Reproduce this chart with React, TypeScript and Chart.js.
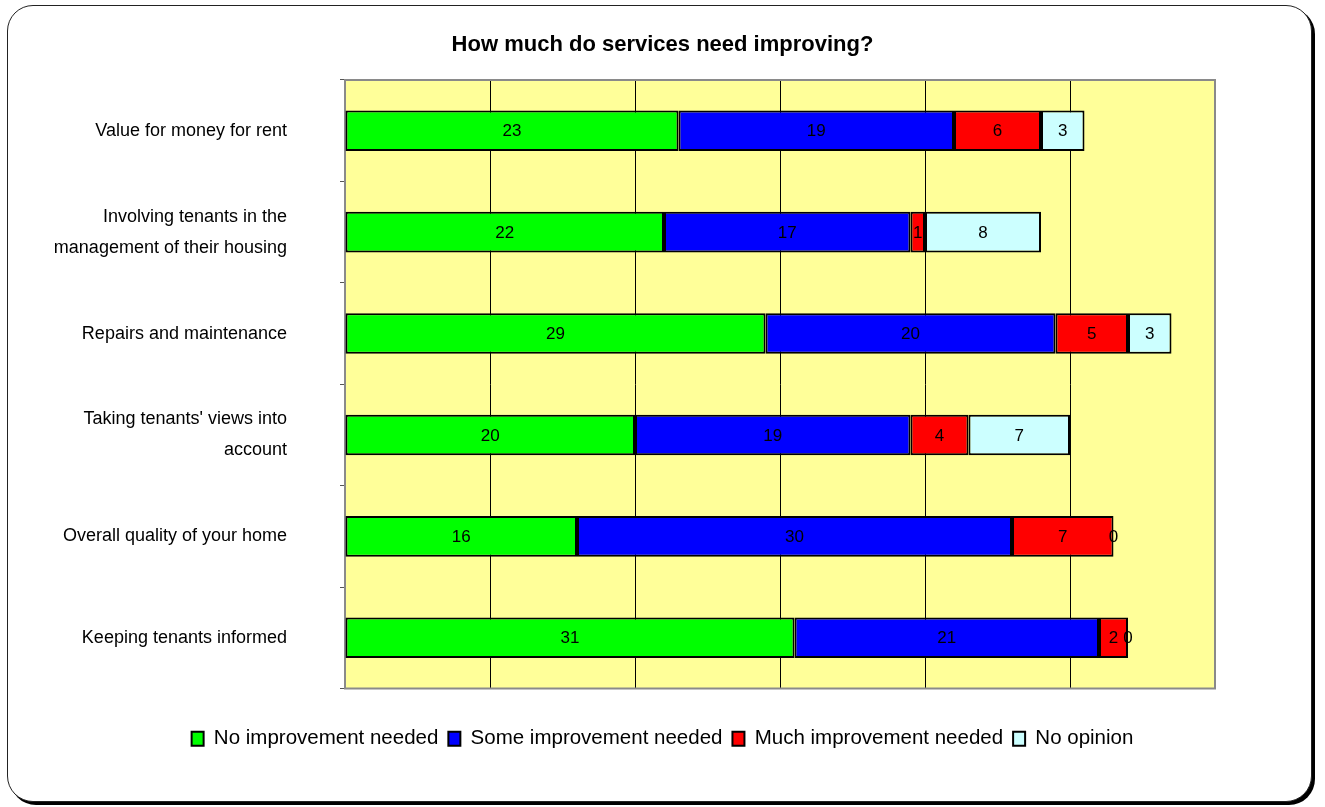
import React, { useEffect, useRef } from "react";
import { Chart, registerables } from "chart.js";

Chart.register(...registerables);

const chartTitle = "How much do services need improving?";
const categories: (string | string[])[] = [
  "Value for money for rent",
  ["Involving tenants in the", "management of their housing"],
  "Repairs and maintenance",
  ["Taking tenants' views into", "account"],
  "Overall quality of your home",
  "Keeping tenants informed",
];
const seriesNames = [
  "No improvement needed",
  "Some improvement needed",
  "Much improvement needed",
  "No opinion",
];
const noImprovement = [23, 22, 29, 20, 16, 31];
const someImprovement = [19, 17, 20, 19, 30, 21];
const muchImprovement = [6, 1, 5, 4, 7, 2];
const noOpinion = [3, 8, 3, 7, 0, 0];
const xMin = 0;
const xMax = 60;
const xStep = 10;

const seriesColors = ["#00FF00", "#0000FF", "#FF0000", "#CCFFFF"];
const FONT = "'Liberation Sans', Arial, sans-serif";

const bgPlugin = {
  id: "plotBg",
  beforeDraw(chart: any) {
    const { ctx, chartArea: a } = chart;
    ctx.save();
    ctx.fillStyle = "#FFFF99";
    ctx.fillRect(a.left, a.top, a.right - a.left, a.bottom - a.top);
    ctx.restore();
  },
  beforeDatasetsDraw(chart: any) {
    const { ctx, chartArea: a } = chart;
    ctx.save();
    ctx.strokeStyle = "#8a8a8a";
    ctx.lineWidth = 2;
    ctx.strokeRect(a.left, a.top, a.right - a.left, a.bottom - a.top);
    ctx.restore();
  },
};

const labelPlugin = {
  id: "segLabels",
  afterDatasetsDraw(chart: any) {
    const { ctx } = chart;
    ctx.save();
    ctx.font = `17px ${FONT}`;
    ctx.fillStyle = "#000";
    ctx.textAlign = "center";
    ctx.textBaseline = "middle";
    chart.data.datasets.forEach((ds: any, di: number) => {
      const meta = chart.getDatasetMeta(di);
      meta.data.forEach((el: any, i: number) => {
        const v = ds.data[i];
        const cx = (el.x + el.base) / 2;
        ctx.fillText(String(v), cx, el.y + 1);
      });
    });
    ctx.restore();
  },
};

export default function App() {
  const ref = useRef<HTMLCanvasElement | null>(null);
  useEffect(() => {
    if (!ref.current) return;
    const values = [noImprovement, someImprovement, muchImprovement, noOpinion];
    const chart = new Chart(ref.current, {
      type: "bar",
      data: {
        labels: categories as any,
        datasets: seriesNames.map((name, i) => ({
          label: name,
          data: values[i],
          backgroundColor: seriesColors[i],
          borderColor: "#000",
          borderWidth: 2,
          borderSkipped: false,
          barPercentage: 0.8,
          categoryPercentage: 0.5,
        })),
      },
      options: {
        indexAxis: "y",
        responsive: false,
        animation: false,
        devicePixelRatio: 1,
        layout: { padding: { left: 0, right: 0, top: 0, bottom: 48 } },
        scales: {
          x: {
            type: "linear",
            stacked: true,
            min: xMin,
            max: xMax,
            ticks: { stepSize: xStep, display: false },
            grid: {
              drawTicks: false,
              lineWidth: 1,
              color: (c: any) =>
                c.tick && (c.tick.value === xMin || c.tick.value === xMax)
                  ? "rgba(0,0,0,0)"
                  : "#000",
            },
            border: { display: false },
            afterFit: (s: any) => {
              s.height = 30;
            },
          },
          y: {
            type: "category",
            stacked: true,
            grid: {
              offset: true,
              drawOnChartArea: false,
              drawTicks: true,
              tickLength: 5,
              color: "#555",
            },
            ticks: {
              color: "#000",
              padding: 53,
              font: { size: 18, family: FONT, lineHeight: "31px" },
            },
            border: { display: false },
            afterFit: (s: any) => {
              s.width = 345;
            },
          },
          y2: {
            type: "linear",
            position: "right",
            display: true,
            grid: { display: false },
            ticks: { display: false },
            border: { display: false },
            afterFit: (s: any) => {
              s.width = 110;
            },
          },
        },
        plugins: {
          title: {
            display: true,
            text: chartTitle,
            color: "#000",
            font: { size: 22, weight: "bold", family: FONT },
            padding: { top: 32, bottom: 21.6 },
          },
          legend: {
            position: "bottom",
            labels: {
              color: "#000",
              font: { size: 20.5, family: FONT },
              boxWidth: 12,
              boxHeight: 14,
              padding: 10,
            },
          },
          tooltip: { enabled: false },
        },
      } as any,
      plugins: [bgPlugin, labelPlugin],
    });
    return () => chart.destroy();
  }, []);

  return (
    <div style={{ position: "fixed", left: 0, top: 0, width: 1325, height: 807, background: "#fff" }}>
      <div
        style={{
          position: "absolute",
          left: 7,
          top: 5,
          width: 1303,
          height: 795,
          border: "1.5px solid #222",
          borderRadius: 26,
          boxShadow: "3px 3px 0 #000",
          background: "#fff",
        }}
      />
      <canvas
        ref={ref}
        width={1325}
        height={807}
        style={{ position: "absolute", left: 0, top: 0, width: 1325, height: 807 }}
      />
    </div>
  );
}
